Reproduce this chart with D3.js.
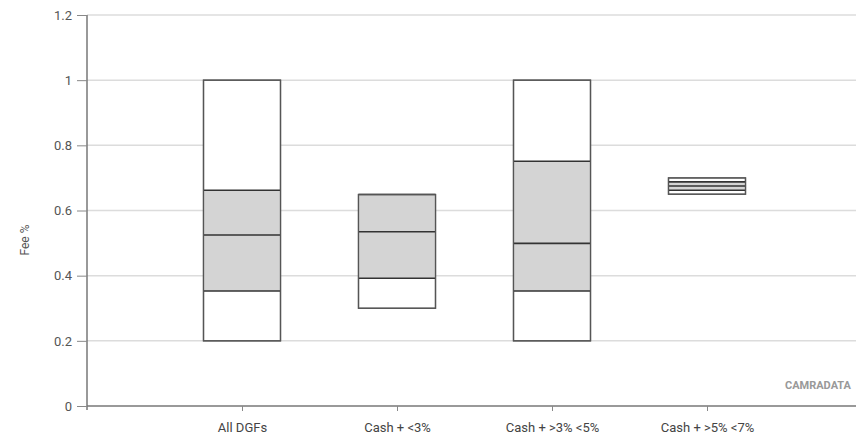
<!DOCTYPE html>
<html><head><meta charset="utf-8">
<script src="https://cdn.jsdelivr.net/npm/d3@7"></script>
<style>
body{margin:0;background:#fff;}
svg text{font-family:Roboto,"DejaVu Sans",sans-serif;}
</style></head>
<body><svg id="c" width="856" height="442"></svg>
<script>
const categories = ["All DGFs", "Cash + <3%", "Cash + >3% <5%", "Cash + >5% <7%"];
const minVals    = [0.20, 0.30, 0.20, 0.650];
const q1Vals     = [0.353, 0.392, 0.353, 0.662];
const medianVals = [0.525, 0.535, 0.499, 0.675];
const q3Vals     = [0.662, 0.649, 0.751, 0.688];
const maxVals    = [1.00, 0.649, 1.00, 0.700];
const yTicks = [0, 0.2, 0.4, 0.6, 0.8, 1, 1.2];
const yTickLabels = ["0", "0.2", "0.4", "0.6", "0.8", "1", "1.2"];

const svg = d3.select("#c");
const x0 = 87, x1 = 856;
const y = d3.scaleLinear().domain([0, 1.2]).range([406, 15]);
const x = d3.scalePoint().domain(["", ...categories]).range([x0, x0 + 155 * 4]);
const bw = 77;

svg.append("g").selectAll("line").data(yTicks.filter(d => d > 0)).join("line")
  .attr("x1", x0).attr("x2", x1).attr("y1", d => y(d)).attr("y2", d => y(d))
  .attr("stroke", "#dcdcdc").attr("stroke-width", 1.5);

const yAxis = d3.axisLeft(y).tickValues(yTicks).tickFormat((d, i) => yTickLabels[i]).tickSize(10).tickPadding(5);
const gy = svg.append("g").attr("transform", `translate(${x0},0)`).call(yAxis);
gy.select(".domain").attr("stroke", "#777").attr("stroke-width", 1.5).attr("d", `M0,${y(1.2)}V${y(0)+4}`);
gy.selectAll(".tick line").attr("stroke", "#888").attr("stroke-width", 1);
gy.selectAll(".tick text").attr("fill", "#555").attr("font-size", 13);

const xAxis = d3.axisBottom(x).tickValues(categories).tickSize(5).tickPadding(12);
const gx = svg.append("g").attr("transform", `translate(0,${y(0)})`).call(xAxis);
gx.select(".domain").attr("stroke", "#777").attr("stroke-width", 1.5).attr("d", `M${x0},0H${x1}`);
gx.selectAll(".tick line").attr("stroke", "#888");
gx.selectAll(".tick text").attr("fill", "#444").attr("font-size", 13);

const data = categories.map((c, i) => ({c, min: minVals[i], q1: q1Vals[i], med: medianVals[i], q3: q3Vals[i], max: maxVals[i]}));
const g = svg.append("g");
g.selectAll("rect.range").data(data).join("rect").attr("class", "range")
  .attr("x", d => x(d.c) - bw / 2).attr("width", bw)
  .attr("y", d => y(d.max)).attr("height", d => y(d.min) - y(d.max))
  .attr("fill", "#fff").attr("stroke", "#666").attr("stroke-width", 1.3);
g.selectAll("rect.iqr").data(data).join("rect").attr("class", "iqr")
  .attr("x", d => x(d.c) - bw / 2).attr("width", bw)
  .attr("y", d => y(d.q3)).attr("height", d => y(d.q1) - y(d.q3))
  .attr("fill", "#d4d4d4").attr("stroke", "none");
const lines = [];
data.forEach(d => { ["q1", "med", "q3"].forEach(k => lines.push({c: d.c, v: d[k]})); });
g.selectAll("line.q").data(lines).join("line").attr("class", "q")
  .attr("x1", d => x(d.c) - bw / 2).attr("x2", d => x(d.c) + bw / 2)
  .attr("y1", d => y(d.v)).attr("y2", d => y(d.v))
  .attr("stroke", "#333").attr("stroke-width", 1.6);
g.selectAll("rect.edge").data(data).join("rect").attr("class", "edge")
  .attr("x", d => x(d.c) - bw / 2).attr("width", bw)
  .attr("y", d => y(d.max)).attr("height", d => y(d.min) - y(d.max))
  .attr("fill", "none").attr("stroke", "#555").attr("stroke-width", 1.3);

svg.append("text").attr("transform", "translate(29,240) rotate(-90)")
  .attr("text-anchor", "middle").attr("fill", "#555").attr("font-size", 12).text("Fee %");

svg.append("text").attr("x", 851).attr("y", 389).attr("text-anchor", "end")
  .attr("fill", "#999").attr("font-size", 11).attr("font-weight", "bold").text("CAMRADATA");
</script></body></html>
